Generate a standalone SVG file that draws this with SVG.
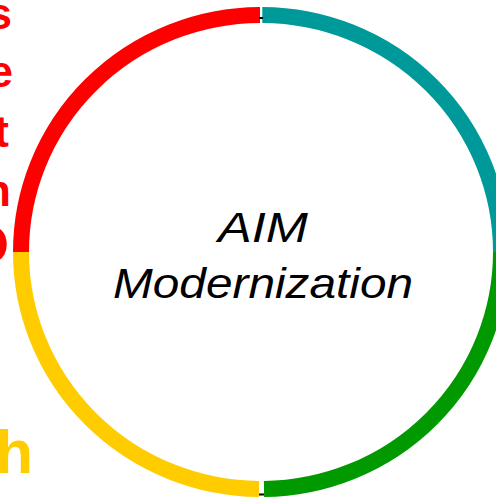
<svg xmlns="http://www.w3.org/2000/svg" width="496" height="499" viewBox="0 0 496 499">
<style>
.arc{fill:none;stroke-width:16;stroke-linecap:butt}
.side{font-family:"Liberation Sans",Arial,sans-serif;fill:#FF0000;font-size:44px;font-weight:bold}
.title{font-family:"Liberation Sans",Arial,sans-serif;font-style:italic;font-size:43px;fill:#000}
</style>
<rect width="496" height="499" fill="#fff"/>
<g id="side-labels">
<text class="side" x="12" y="29" text-anchor="end">s</text>
<text class="side" x="13" y="87" text-anchor="end">e</text>
<text class="side" x="9" y="147" text-anchor="end">t</text>
<text class="side" x="11" y="206" text-anchor="end">h</text>
<text class="side" x="9" y="263" text-anchor="end" style="font-size:54px">O</text>
<text x="33" y="473" text-anchor="end" style="font-family:'Liberation Sans',Arial,sans-serif;font-weight:bold;font-size:62px;fill:#FFCC00">h</text>
</g>
<g id="connectors">
<path class="arc" stroke="#FF0000" d="M21,252 A240,237 0 0 1 260,15"/>
<path class="arc" stroke="#009999" d="M262.3,15 A240,237 0 0 1 501,252"/>
<path class="arc" stroke="#009900" d="M501,252 A240,237 0 0 1 264,489"/>
<path class="arc" stroke="#FFCC00" d="M259,489 A240,237 0 0 1 21,252"/>
<line x1="259" y1="18" x2="263" y2="18" stroke="#000" stroke-width="2"/>
<line x1="259" y1="494.5" x2="264" y2="494.5" stroke="#000" stroke-width="2"/>
</g>
<g id="center">
<text class="title" x="263" y="242" text-anchor="middle" textLength="90" lengthAdjust="spacingAndGlyphs">AIM</text>
<text class="title" x="263" y="298" text-anchor="middle" textLength="300" lengthAdjust="spacingAndGlyphs">Modernization</text>
</g>
</svg>
